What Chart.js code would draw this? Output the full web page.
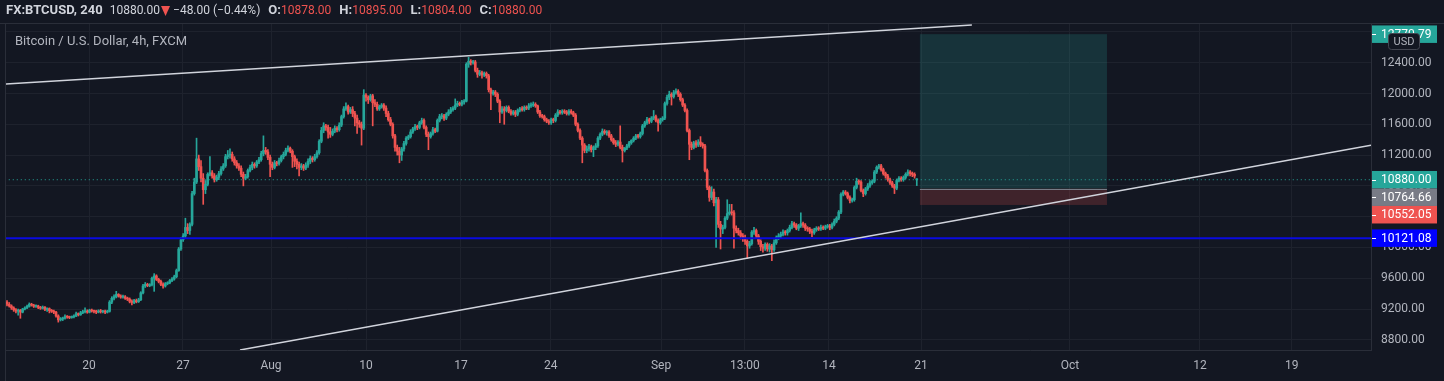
<!DOCTYPE html>
<html>
<head>
<meta charset="utf-8">
<script src="https://cdn.jsdelivr.net/npm/chart.js@4.4.0/dist/chart.umd.min.js"></script>
<style>
  html, body { margin: 0; padding: 0; background: #131722; }
  canvas { display: block; }
</style>
</head>
<body>
<canvas id="myChart" width="1444" height="381"></canvas>
<script>
/* BTCUSD 4h candles */
const opens = [
  9290,9262,9240,9215,9190, 9172,9185,9160,9200,9215,
  9235,9262,9250,9235,9240, 9222,9210,9225,9195,9205,
  9180,9170,9160,9110,9060, 9070,9080,9100,9095,9090,
  9098,9110,9140,9125,9150, 9165,9170,9160,9185,9175,
  9170,9160,9175,9165,9170, 9160,9170,9290,9340,9360,
  9390,9370,9355,9360,9340, 9330,9300,9285,9310,9295,
  9320,9410,9500,9520,9505, 9515,9600,9630,9585,9560,
  9520,9500,9530,9540,9570, 9590,9620,9700,9980,10100,
  10150,10260,10220,10300,10700, 10850,11150,11050,10900,10750,
  10820,10950,10970,10930,10880, 10910,10960,11020,11060,11180,
  11200,11210,11150,11100,11060, 11030,10950,10900,10920,11000,
  11040,11080,11060,11110,11140, 11220,11260,11240,11170,11080,
  11040,11100,11090,11130,11180, 11210,11260,11290,11250,11180,
  11120,11080,11040,11060,11030, 11070,11120,11160,11140,11180,
  11230,11380,11520,11580,11560, 11500,11470,11510,11550,11530,
  11590,11700,11800,11830,11760, 11790,11740,11680,11620,11600,
  11550,11980,11950,11920,11970, 11880,11860,11800,11830,11850,
  11810,11740,11660,11600,11450, 11300,11250,11200,11280,11350,
  11420,11440,11500,11540,11570, 11560,11620,11650,11560,11470,
  11440,11480,11530,11510,11650, 11700,11710,11680,11730,11760,
  11790,11810,11850,11870,11860, 11890,11900,12380,12420,12400,
  12410,12300,12250,12270,12240, 12260,12230,12050,12000,12020,
  11990,11900,11760,11800,11780, 11820,11770,11740,11760,11730,
  11780,11800,11790,11820,11810, 11840,11850,11860,11840,11760,
  11710,11700,11660,11640,11620, 11660,11650,11720,11760,11750,
  11770,11760,11740,11770,11750, 11720,11600,11520,11420,11330,
  11260,11280,11310,11270,11300, 11320,11420,11470,11510,11490,
  11500,11450,11400,11360,11340, 11370,11300,11260,11290,11320,
  11360,11390,11420,11450,11440, 11480,11580,11620,11660,11640,
  11680,11700,11650,11620,11660, 11680,11870,11950,11990,11960,
  12010,12030,11990,11920,11850, 11780,11520,11340,11300,11360,
  11330,11370,11340,11320,11000, 10780,10650,10720,10580,10620,
  10300,10240,10260,10380,10440, 10460,10450,10250,10220,10190,
  10150,10120,10080,10020,10050, 10200,10220,10150,10080,10010,
  9990,10040,9980,10020,9970, 10060,10130,10150,10170,10200,
  10190,10220,10260,10310,10290, 10250,10280,10310,10290,10250,
  10240,10210,10190,10230,10250, 10240,10260,10250,10270,10280,
  10260,10300,10340,10380,10460, 10690,10720,10700,10650,10610,
  10620,10780,10860,10850,10740, 10700,10760,10800,10840,10860,
  10980,11040,11060,11010,10960, 10930,10880,10840,10800,10770,
  10870,10900,10880,10910,10950, 10980,10960,10950,10878
];
const highs = [
  9310,9285,9255,9230,9205, 9200,9195,9210,9228,9250,
  9280,9275,9262,9255,9250, 9235,9240,9232,9215,9215,
  9195,9185,9170,9125,9090, 9095,9125,9115,9108,9110,
  9125,9160,9150,9170,9185, 9215,9190,9198,9200,9188,
  9185,9190,9195,9182,9185, 9185,9310,9360,9385,9430,
  9400,9385,9380,9375,9355, 9345,9320,9325,9330,9340,
  9425,9520,9545,9535,9530, 9615,9660,9645,9600,9575,
  9540,9545,9555,9585,9610, 9640,9720,10000,10130,10180,
  10380,10310,10320,10730,10900, 11420,11200,11130,10960,10870,
  10970,11180,11000,10960,10940, 10990,11050,11090,11210,11260,
  11280,11240,11180,11130,11090, 11060,10980,10950,11020,11070,
  11110,11100,11130,11170,11250, 11450,11300,11270,11200,11110,
  11130,11120,11160,11200,11240, 11290,11320,11305,11270,11200,
  11150,11110,11090,11080,11100, 11150,11190,11180,11210,11260,
  11400,11560,11620,11600,11590, 11560,11540,11580,11570,11620,
  11720,11830,11880,11850,11820, 11830,11770,11720,11650,11630,
  12050,12000,11970,11990,11990, 11920,11890,11850,11870,11870,
  11840,11770,11690,11620,11470, 11330,11300,11300,11380,11440,
  11460,11530,11560,11600,11590, 11640,11680,11670,11580,11500,
  11500,11560,11550,11670,11730, 11740,11730,11750,11790,11820,
  11830,11930,11900,11890,11910, 11920,12400,12470,12440,12430,
  12430,12330,12300,12290,12280, 12280,12250,12070,12040,12040,
  12010,11920,11830,11830,11840, 11840,11790,11780,11780,11800,
  11820,11830,11840,11840,11870, 11880,11890,11880,11850,11780,
  11730,11720,11680,11660,11680, 11680,11740,11790,11780,11790,
  11790,11780,11790,11790,11770, 11740,11620,11540,11440,11350,
  11320,11340,11330,11320,11350, 11440,11490,11540,11530,11520,
  11520,11470,11420,11390,11390, 11580,11330,11300,11340,11380,
  11400,11440,11470,11470,11500, 11600,11640,11690,11680,11700,
  11780,11720,11670,11680,11700, 11890,11980,12030,12010,12040,
  12060,12050,12010,11940,11870, 11800,11540,11370,11380,11390,
  11400,11440,11360,11340,11020, 10800,10790,10760,10650,10650,
  10340,10290,10400,10620,10560, 10560,10480,10280,10250,10220,
  10180,10160,10100,10080,10220, 10260,10240,10170,10100,10040,
  10060,10060,10050,10040,10100, 10150,10180,10200,10230,10220,
  10240,10290,10340,10330,10310, 10300,10450,10330,10310,10270,
  10260,10240,10250,10270,10270, 10290,10280,10290,10300,10300,
  10320,10370,10400,10480,10710, 10740,10740,10720,10670,10640,
  10800,10900,10880,10870,10760, 10780,10830,10870,10880,11000,
  11060,11080,11080,11030,10980, 10950,10900,10860,10820,10890,
  10920,10920,10930,10970,11010, 11000,10980,10970,10895
];
const lows = [
  9240,9225,9195,9170,9150, 9120,9080,9150,9190,9205,
  9225,9238,9220,9222,9205, 9195,9200,9180,9170,9150,
  9155,9140,9095,9030,9045, 9050,9070,9080,9075,9080,
  9085,9100,9110,9118,9140, 9150,9145,9150,9160,9150,
  9140,9150,9148,9150,9140, 9148,9160,9270,9320,9345,
  9355,9340,9340,9325,9310, 9280,9255,9270,9280,9285,
  9310,9395,9480,9490,9490, 9500,9430,9570,9540,9505,
  9470,9485,9515,9528,9555, 9575,9605,9690,9960,10080,
  10130,10180,10170,10280,10680, 10830,11000,10850,10560,10700,
  10800,10930,10900,10850,10860, 10880,10940,11000,11040,11150,
  11160,11120,11070,11030,11000, 10920,10800,10880,10900,10980,
  11010,11030,11040,11090,11120, 11190,11210,11140,10920,11010,
  11020,11060,11070,11110,11150, 11190,11240,11230,11040,11050,
  11020,10930,11010,11000,11010, 11040,11090,11110,11120,11160,
  11210,11360,11490,11520,11420, 11430,11450,11490,11500,11510,
  11570,11680,11780,11730,11740, 11700,11580,11480,11560,11330,
  11530,11900,11870,11900,11580, 11830,11780,11780,11810,11780,
  11700,11640,11580,11420,11250, 11200,11100,11130,11250,11330,
  11400,11420,11480,11520,11530, 11540,11600,11540,11440,11270,
  11420,11460,11490,11500,11630, 11670,11650,11660,11710,11740,
  11770,11790,11830,11840,11840, 11860,11890,12340,12370,12380,
  12280,12210,12230,12200,12220, 12200,12020,11790,11980,11960,
  11880,11620,11740,11600,11760, 11750,11720,11720,11700,11710,
  11760,11770,11770,11790,11790, 11820,11830,11820,11740,11690,
  11680,11640,11620,11600,11600, 11620,11630,11700,11730,11730,
  11740,11720,11720,11730,11700, 11580,11500,11400,11100,11230,
  11230,11250,11240,11180,11270, 11300,11400,11450,11470,11460,
  11430,11380,11340,11310,11320, 11280,11110,11240,11270,11300,
  11340,11370,11400,11420,11420, 11460,11560,11600,11610,11620,
  11660,11630,11510,11600,11640, 11660,11850,11920,11850,11940,
  11990,11960,11900,11830,11760, 11500,11140,11270,11280,11300,
  11310,11310,11290,10980,10750, 10600,10620,10540,10000,10260,
  9980,10180,10240,10360,10420, 10420,9990,10190,10160,10110,
  10080,10040,9860,9990,10030, 10170,10120,10040,9960,9940,
  9960,9950,9940,9830,9950, 10040,10100,10120,10150,10160,
  10160,10200,10240,10260,10230, 10220,10260,10260,10220,10210,
  10180,10140,10170,10210,10220, 10220,10230,10230,10250,10230,
  10240,10280,10320,10360,10440, 10670,10680,10630,10580,10590,
  10600,10760,10820,10720,10660, 10680,10740,10780,10820,10840,
  10960,11020,10990,10940,10900, 10860,10820,10780,10700,10750,
  10850,10860,10860,10890,10930, 10930,10920,10900,10804
];
const closes = [
  9262,9240,9215,9190,9172, 9185,9160,9200,9215,9235,
  9262,9250,9235,9240,9222, 9210,9225,9195,9205,9180,
  9170,9160,9110,9060,9070, 9080,9100,9095,9090,9098,
  9110,9140,9125,9150,9165, 9170,9160,9185,9175,9170,
  9160,9175,9165,9170,9160, 9170,9290,9340,9360,9390,
  9370,9355,9360,9340,9330, 9300,9285,9310,9295,9320,
  9410,9500,9520,9505,9515, 9600,9630,9585,9560,9520,
  9500,9530,9540,9570,9590, 9620,9700,9980,10100,10150,
  10260,10220,10300,10700,10850, 11150,11050,10900,10750,10820,
  10950,10970,10930,10880,10910, 10960,11020,11060,11180,11200,
  11210,11150,11100,11060,11030, 10950,10900,10920,11000,11040,
  11080,11060,11110,11140,11220, 11260,11240,11170,11080,11040,
  11100,11090,11130,11180,11210, 11260,11290,11250,11180,11120,
  11080,11040,11060,11030,11070, 11120,11160,11140,11180,11230,
  11380,11520,11580,11560,11500, 11470,11510,11550,11530,11590,
  11700,11800,11830,11760,11790, 11740,11680,11620,11600,11550,
  11980,11950,11920,11970,11880, 11860,11800,11830,11850,11810,
  11740,11660,11600,11450,11300, 11250,11200,11280,11350,11420,
  11440,11500,11540,11570,11560, 11620,11650,11560,11470,11440,
  11480,11530,11510,11650,11700, 11710,11680,11730,11760,11790,
  11810,11850,11870,11860,11890, 11900,12380,12420,12400,12410,
  12300,12250,12270,12240,12260, 12230,12050,12000,12020,11990,
  11900,11760,11800,11780,11820, 11770,11740,11760,11730,11780,
  11800,11790,11820,11810,11840, 11850,11860,11840,11760,11710,
  11700,11660,11640,11620,11660, 11650,11720,11760,11750,11770,
  11760,11740,11770,11750,11720, 11600,11520,11420,11330,11260,
  11280,11310,11270,11300,11320, 11420,11470,11510,11490,11500,
  11450,11400,11360,11340,11370, 11300,11260,11290,11320,11360,
  11390,11420,11450,11440,11480, 11580,11620,11660,11640,11680,
  11700,11650,11620,11660,11680, 11870,11950,11990,11960,12010,
  12030,11990,11920,11850,11780, 11520,11340,11300,11360,11330,
  11370,11340,11320,11000,10780, 10650,10720,10580,10620,10300,
  10240,10260,10380,10440,10460, 10450,10250,10220,10190,10150,
  10120,10080,10020,10050,10200, 10220,10150,10080,10010,9990,
  10040,9980,10020,9970,10060, 10130,10150,10170,10200,10190,
  10220,10260,10310,10290,10250, 10280,10310,10290,10250,10240,
  10210,10190,10230,10250,10240, 10260,10250,10270,10280,10260,
  10300,10340,10380,10460,10690, 10720,10700,10650,10610,10620,
  10780,10860,10850,10740,10700, 10760,10800,10840,10860,10980,
  11040,11060,11010,10960,10930, 10880,10840,10800,10770,10870,
  10900,10880,10910,10950,10980, 10960,10950,10928,10880
];

// time axis labels, placed at the bar position where each date falls
const dateTicks = [36.8, 78.9, 118.4, 161.0, 203.6, 243.9, 293.3, 330.9, 368.6, 409.9, 476.7, 535.0, 576.2];
const dateLabels = ['20', '27', 'Aug', '10', '17', '24', 'Sep', '13:00', '14', '21', 'Oct', '12', '19'];
const priceTicks = [8800, 9200, 9600, 10000, 10400, 10800, 11200, 11600, 12000, 12400, 12800];

// drawings on the chart
const supportLevel = 10121.08;
const upperTrendX = [-0.5, 432.7];
const upperTrendY = [12123, 12890];
const lowerTrendX = [104.5, 611.7];
const lowerTrendY = [8668, 11328];
const posStart = 409.4, posEnd = 493.3;
const entryPrice = 10764.66, targetPrice = 12770.79, stopPrice = 10552.05;

const upColor = '#26a69a';
const downColor = '#ef5350';
const textColor = '#b2b5be';
const gridColor = '#1e222d';
const lineColor = '#2a2e39';
const fontName = 'Roboto';

const last = closes.length - 1;
const lastPrice = closes[last];
const change = closes[last] - closes[last - 1];
const changePct = change / closes[last - 1] * 100;

const candleColors = closes.map((c, i) => c >= opens[i] ? upColor : downColor);
const bars = closes.map((c, i) => i);

function fmt(v) {
  return v.toFixed(2).replace('-', '\u2212');
}

// background + position tool (under the candles)
const backdrop = {
  id: 'backdrop',
  beforeDraw(chart) {
    const ctx = chart.ctx;
    ctx.save();
    ctx.fillStyle = '#131722';
    ctx.fillRect(0, 0, chart.width, chart.height);
    ctx.restore();
  },
  beforeDatasetsDraw(chart) {
    const { ctx, chartArea, scales: { x, y } } = chart;
    const x0 = x.getPixelForValue(posStart);
    const x1 = x.getPixelForValue(posEnd);
    const yT = y.getPixelForValue(targetPrice);
    const yE = y.getPixelForValue(entryPrice);
    const yS = y.getPixelForValue(stopPrice);
    ctx.save();
    ctx.beginPath();
    ctx.rect(chartArea.left, chartArea.top, chartArea.width, chartArea.height);
    ctx.clip();
    ctx.fillStyle = 'rgba(38,166,154,0.2)';
    ctx.fillRect(x0, yT, x1 - x0, yE - yT);
    ctx.fillStyle = 'rgba(239,83,80,0.2)';
    ctx.fillRect(x0, yE, x1 - x0, yS - yE);
    ctx.strokeStyle = '#787b86';
    ctx.lineWidth = 1;
    ctx.beginPath();
    ctx.moveTo(x0, Math.round(yE) + 0.5);
    ctx.lineTo(x1, Math.round(yE) + 0.5);
    ctx.stroke();
    ctx.restore();
  }
};

// header, legend title, borders, price tags
const overlay = {
  id: 'overlay',
  afterDraw(chart) {
    const { ctx, chartArea, scales: { y } } = chart;
    ctx.save();

    // frame lines
    ctx.strokeStyle = lineColor;
    ctx.lineWidth = 1;
    ctx.beginPath();
    ctx.moveTo(0, chartArea.top - 0.5);
    ctx.lineTo(chart.width, chartArea.top - 0.5);
    ctx.moveTo(chartArea.left - 0.5, chartArea.top);
    ctx.lineTo(chartArea.left - 0.5, chart.height);
    ctx.stroke();

    // header line
    let hx = 6;
    const hy = 11;
    ctx.textBaseline = 'middle';
    ctx.textAlign = 'left';
    const put = (txt, color, bold, gap) => {
      ctx.font = (bold ? 'bold 13px ' : '12px ') + fontName;
      ctx.fillStyle = color;
      ctx.fillText(txt, hx, hy);
      hx += ctx.measureText(txt).width + (gap || 0);
    };
    put('FX:BTCUSD, 240', '#d1d4dc', true, 7);
    put(fmt(lastPrice), '#d1d4dc', false, 1);
    // down arrow
    ctx.fillStyle = downColor;
    ctx.beginPath();
    ctx.moveTo(hx, hy - 5);
    ctx.lineTo(hx + 9, hy - 5);
    ctx.lineTo(hx + 4.5, hy + 5);
    ctx.closePath();
    ctx.fill();
    hx += 12;
    put(fmt(change) + ' (' + fmt(changePct) + '%)', '#d1d4dc', false, 8);
    const ohlc = [['O:', opens[last]], ['H:', highs[last]], ['L:', lows[last]], ['C:', closes[last]]];
    ohlc.forEach(([k, v]) => {
      put(k, '#d1d4dc', true, 0);
      put(fmt(v), downColor, false, 8);
    });

    // series title
    ctx.font = '13px ' + fontName;
    ctx.fillStyle = textColor;
    ctx.fillText('Bitcoin / U.S. Dollar, 4h, FXCM', 15, 42);

    // price tags on the right axis
    const tags = [
      { v: targetPrice, bg: upColor },
      { v: lastPrice, bg: upColor },
      { v: entryPrice, bg: '#787b86' },
      { v: stopPrice, bg: downColor },
      { v: supportLevel, bg: '#0000ff' }
    ];
    const h = 17.5;
    let prev = -Infinity;
    ctx.font = '12px ' + fontName;
    tags.forEach(t => {
      let py = y.getPixelForValue(t.v);
      py = Math.max(py, prev + h);
      prev = py;
      ctx.fillStyle = t.bg;
      ctx.fillRect(chartArea.right + 1, py - h / 2, 65, h);
      ctx.strokeStyle = '#ffffff';
      ctx.beginPath();
      ctx.moveTo(chartArea.right + 1, Math.round(py) + 0.5);
      ctx.lineTo(chartArea.right + 5, Math.round(py) + 0.5);
      ctx.stroke();
      ctx.fillStyle = '#ffffff';
      ctx.fillText(fmt(t.v), chartArea.right + 10, py + 0.5);
    });

    // currency badge
    ctx.fillStyle = '#131722';
    ctx.strokeStyle = '#434651';
    ctx.beginPath();
    ctx.roundRect(1388.5, 33.5, 31, 16, 3);
    ctx.fill();
    ctx.stroke();
    ctx.fillStyle = textColor;
    ctx.font = '11px ' + fontName;
    ctx.textAlign = 'center';
    ctx.fillText('USD', 1404, 42);

    ctx.restore();
  }
};

const ctx = document.getElementById('myChart').getContext('2d');
const chart = new Chart(ctx, {
  type: 'bar',
  data: {
    datasets: [
      {
        type: 'line',
        data: upperTrendX.map((v, i) => ({ x: v, y: upperTrendY[i] })),
        borderColor: '#d1d4dc',
        borderWidth: 1.5,
        pointRadius: 0,
        order: 0
      },
      {
        type: 'line',
        data: lowerTrendX.map((v, i) => ({ x: v, y: lowerTrendY[i] })),
        borderColor: '#d1d4dc',
        borderWidth: 1.5,
        pointRadius: 0,
        order: 0
      },
      {
        type: 'line',
        data: [{ x: -1, y: supportLevel }, { x: 620, y: supportLevel }],
        borderColor: '#0a0ae0',
        borderWidth: 2,
        pointRadius: 0,
        order: 0
      },
      {
        type: 'line',
        data: [{ x: -1, y: lastPrice }, { x: 620, y: lastPrice }],
        borderColor: upColor,
        borderWidth: 1,
        borderDash: [1, 3],
        pointRadius: 0,
        order: 0
      },
      {
        // candle bodies
        data: bars.map(i => ({ x: i, y: [opens[i], closes[i]] })),
        backgroundColor: candleColors,
        barThickness: 2,
        minBarLength: 1,
        grouped: false,
        order: 1
      },
      {
        // wicks
        data: bars.map(i => ({ x: i, y: [lows[i], highs[i]] })),
        backgroundColor: candleColors,
        barThickness: 1,
        grouped: false,
        order: 2
      }
    ]
  },
  options: {
    responsive: false,
    animation: false,
    devicePixelRatio: 1,
    events: [],
    layout: { padding: { top: 24, left: 6, right: 0, bottom: 0 } },
    plugins: {
      legend: { display: false },
      tooltip: { enabled: false }
    },
    scales: {
      x: {
        type: 'linear',
        position: 'bottom',
        min: -0.45,
        max: 611.7,
        offset: false,
        grid: { color: gridColor, drawTicks: false, offset: false },
        border: { color: lineColor },
        afterBuildTicks: (scale) => { scale.ticks = dateTicks.map(v => ({ value: v })); },
        afterFit: (scale) => { scale.height = 31; },
        ticks: {
          color: textColor,
          font: { family: fontName, size: 12 },
          padding: 9,
          maxRotation: 0,
          autoSkip: false,
          callback: (v, i) => dateLabels[i]
        }
      },
      y: {
        type: 'linear',
        position: 'right',
        min: 8668,
        max: 12903,
        grid: { color: gridColor, drawTicks: false },
        border: { color: lineColor },
        afterBuildTicks: (scale) => { scale.ticks = priceTicks.map(v => ({ value: v })); },
        afterFit: (scale) => { scale.width = 73; },
        ticks: {
          color: textColor,
          font: { family: fontName, size: 12 },
          padding: 10,
          callback: (v) => v.toFixed(2)
        }
      }
    }
  },
  plugins: [backdrop, overlay]
});
</script>
</body>
</html>
